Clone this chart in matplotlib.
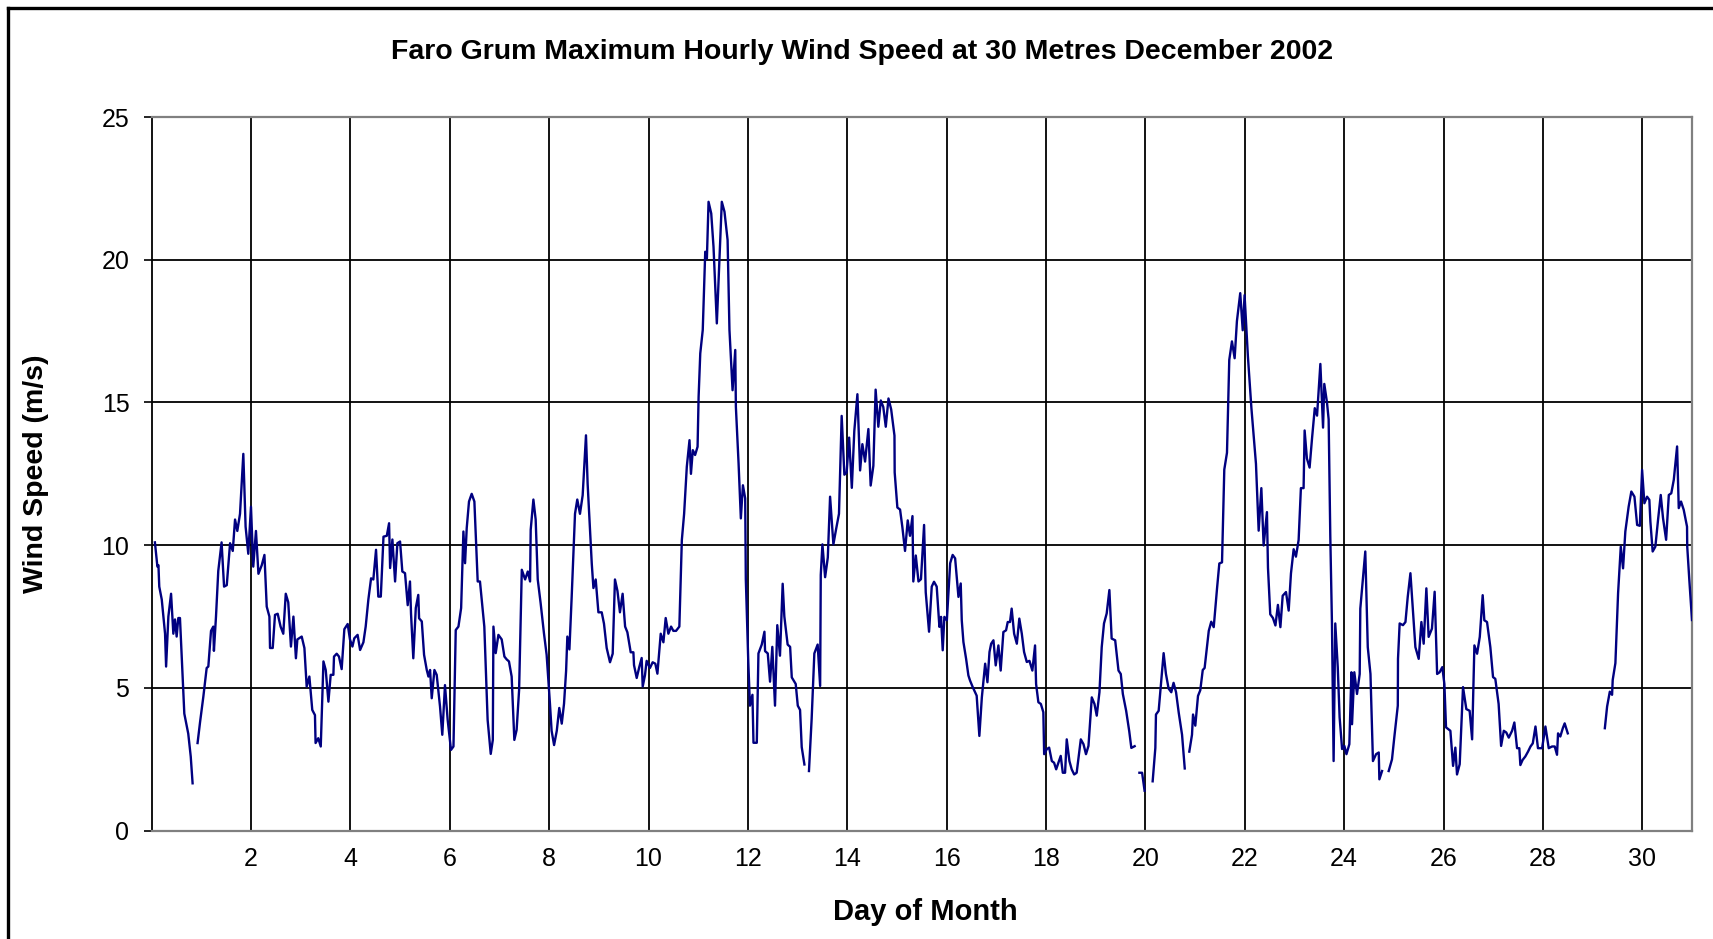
import numpy as np
import matplotlib
matplotlib.use("Agg")
import matplotlib.pyplot as plt
from matplotlib.lines import Line2D

plt.rcParams['font.family'] = ['Liberation Sans', 'DejaVu Sans']

nan = np.nan

# hour of month (from 00:00 on 1 Dec) and max hourly wind speed (m/s); nan = missing data
hours = [
    1.6, 2.8, 3.3, 3.7, 4.9, 6.5, 7.0, 8.1, 9.4, 10.5, 11.3, 12.1, 12.9, 13.7, 14.5, 15.8, 17.7, 18.9, 19.8,
    21.0,
    22.2, 23.4, 25.0, 26.6, 27.4, 28.7, 29.8, 30.1, 31.1, 32.2, 33.8, 35.0, 36.3, 37.9, 39.2, 40.3, 41.4,
    42.7, 44.3, 45.4, 46.7, 48.0, 49.1, 50.4, 51.6, 53.2, 54.5, 55.6, 56.9, 57.2, 58.5, 59.6, 60.9, 62.3,
    63.6, 64.8, 66.0, 67.3, 68.5, 69.7, 70.4, 72.5, 73.8, 74.9, 76.2, 77.6, 78.9, 79.2, 80.5, 81.7, 83.0,
    84.1, 85.4, 86.5, 87.8, 88.1, 89.4, 90.5, 91.8, 93.1,
    94.7, 95.8, 97.0, 97.9, 99.5, 100.7, 102.3, 103.4, 104.7, 106.0, 107.1, 108.4, 109.5, 110.7, 112.0,
    113.6, 114.7, 115.2, 116.3, 117.6, 118.7, 120.0, 121.1, 122.4, 123.7, 124.8, 125.3, 126.4, 127.6,
    128.8, 129.2, 130.5, 131.6, 132.9, 133.7, 134.5, 135.3, 136.6, 137.7, 139.3, 140.4, 141.7, 143.0,
    144.6, 145.8, 146.9, 148.2, 149.5, 150.6, 151.4, 152.2, 153.3, 154.6, 155.9, 157.5, 158.6, 160.7,
    162.3, 163.8, 164.8, 165.1, 166.2, 167.5, 169.1, 170.4, 171.5, 172.6, 173.9, 175.2, 176.3, 177.5,
    178.8, 180.4, 181.7, 182.8, 183.1, 184.4, 185.5, 186.5, 187.9, 189.5, 190.8,
    192.4, 193.2, 194.4, 195.7, 196.9, 198.1, 199.2, 200.2, 200.8, 201.8, 202.9, 204.5, 205.6, 206.9,
    208.2, 209.8, 210.6, 211.8, 212.6, 213.4, 214.5, 215.8, 217.4, 218.5, 219.8, 221.4, 222.7, 223.8,
    225.0, 226.2, 227.5, 228.7, 229.8, 231.4, 232.7, 233.0, 234.3, 235.6, 236.7, 237.2, 238.3, 239.1,
    240.7, 242.0, 243.3, 244.3, 245.9, 247.2, 248.3, 249.6, 250.9, 252.0, 253.3, 254.9,
    256.1, 257.2, 258.5, 259.8, 260.5, 261.4, 262.5, 263.7, 264.2, 265.0, 266.2, 267.4, 268.2, 269.0,
    270.3, 271.4, 273.0, 274.3, 275.4, 276.7, 278.2, 279.1, 280.6, 281.9, 282.2, 283.5, 284.6, 285.6, 286.7,
    287.0, 288.2, 289.0, 290.2, 290.7, 292.3, 293.1, 294.7, 296.0, 296.3, 297.6, 298.7, 299.8, 301.1,
    302.2, 303.5, 304.8, 305.6, 307.2, 308.4, 309.2, 311.1, 312.1, 313.2, 314.0, 315.3,
    316.4,
    317.5, 318.8, 320.1, 321.7, 322.9, 323.2, 324.0, 325.3, 326.6, 327.7, 329.3, 330.6, 332.0, 333.3,
    334.6, 335.7, 336.9, 338.2, 339.4, 340.9, 342.2, 343.3, 344.6, 346.2, 347.3, 348.6, 349.7, 351.0,
    352.2, 353.4, 354.6, 355.9, 357.2, 358.8, 358.9, 360.2, 361.5, 362.6, 363.9, 365.2, 366.3, 367.5,
    367.9, 369.1, 370.4, 371.6, 373.1, 373.9, 375.5,
    376.8, 377.9, 379.2, 380.5, 381.3, 382.1, 382.9, 384.1, 385.7, 386.9, 388.1, 389.7, 390.8, 391.3,
    392.1, 393.4, 394.5, 395.3, 396.6, 398.5, 399.8, 401.0, 402.6, 403.7, 404.7, 405.5, 406.6, 407.7,
    409.0, 410.1, 411.4, 412.7, 413.5, 414.6, 415.4, 416.6, 417.9, 419.1, 420.3, 421.4, 422.7, 424.0,
    425.4, 426.7, 427.2, 428.3, 429.5, 430.7, 431.1, 432.4, 433.5, 434.8, 435.9, 436.9, 438.0, 439.1,
    440.1, 441.2, 442.0, 443.3, 444.4, 445.6, 446.8, 448.1, 448.8, 450.1, 451.3, 452.5, 454.1, 455.4,
    456.5, 457.8, 458.9, 460.0, 461.3, 462.6, 463.7, 465.4, 467.0, 468.1, 469.1, 470.7,
    472.2, 473.2, 474.8,
    476.0,
    477.1, 478.4, 479.6,
    481.5,
    483.5, 484.8, 485.1, 486.4, 487.7, 488.8, 489.9, 491.2, 492.5, 493.6, 494.8, 496.1, 497.7, 499.0,
    500.1,
    501.2, 502.5, 503.0, 504.1, 505.4, 506.5, 507.7, 508.6, 509.3, 510.6, 511.8, 513.0, 514.6, 515.7,
    517.0, 518.1, 519.4, 520.5, 521.8, 523.1, 524.2, 525.8, 527.0, 527.9, 529.5, 531.2, 533.4, 534.7,
    536.0, 537.1, 538.7, 539.2, 540.3, 541.6, 542.8, 544.0, 545.2, 546.3, 547.9, 549.2, 550.3, 551.6,
    552.7, 554.0, 555.1, 556.4, 556.9, 558.0, 559.3, 560.5, 561.8, 562.9,
    564.5, 565.8, 566.4, 567.7, 568.5, 569.3, 570.1, 570.9, 571.7, 572.9, 573.8, 575.0, 576.1, 577.1,
    578.5, 579.5, 579.8, 580.9, 582.2, 583.5, 583.8, 585.1, 586.2, 587.4, 588.7, 589.9, 591.4, 592.7,
    593.0, 594.3,
    596.0,
    597.5, 599.1, 600.2, 601.9, 602.0, 602.8, 604.4, 605.6, 606.7, 608.0, 609.3, 610.4, 612.0, 613.3,
    614.4, 615.7, 616.8, 618.4, 619.7, 620.9, 622.1, 623.4, 624.4, 625.2, 627.3, 628.6, 629.7, 630.5,
    631.8, 633.4, 635.0, 636.6, 637.8, 638.9, 640.2, 641.5, 642.9, 643.7, 645.0, 646.6, 647.9, 649.0,
    650.6, 651.8, 653.1, 654.3, 655.5, 657.1, 658.2,
    659.5, 660.6, 661.1, 662.2, 663.5, 664.8, 666.0, 667.1, 668.4, 669.6, 670.8, 671.6, 673.2, 674.8,
    676.4, 677.7, 678.8, 679.3, 680.4, 681.6, 682.5, 684.0,
    693.0,
    701.9, 703.0, 704.3, 705.4, 705.7, 707.0, 708.3, 709.6, 710.7, 711.8, 713.4, 714.7, 716.2, 717.5,
    718.8, 719.9, 721.0, 722.3, 723.4, 723.9, 725.0, 726.3, 727.6, 728.9, 730.0, 731.5, 732.8, 734.0,
    735.2, 736.8, 737.6, 738.7, 740.0, 741.6, 741.7, 742.7, 744.0,
]

speed = [
    10.1, 9.25, 9.3, 8.55, 8.1, 6.9, 5.75, 7.5, 8.3, 6.9, 7.4, 6.8, 7.45, 7.45, 6.2, 4.1, 3.4, 2.6, 1.66,
    nan,
    3.07, 3.8, 4.7, 5.7, 5.75, 7.0, 7.15, 6.3, 7.5, 9.1, 10.1, 8.55, 8.6, 10.07, 9.8, 10.9, 10.5,
    11.1, 13.2, 10.65, 9.7, 11.35, 9.25, 10.5, 9.0, 9.3, 9.66, 7.85, 7.5, 6.4, 6.4, 7.56, 7.6, 7.15,
    6.9, 8.3, 8.0, 6.45, 7.5, 6.04, 6.7, 6.8, 6.4, 5.05, 5.4, 4.23, 4.05, 3.07, 3.24, 2.95, 5.93,
    5.63, 4.52, 5.46, 5.46, 6.1, 6.2, 6.1, 5.66, 7.06,
    7.24, 6.7, 6.45, 6.74, 6.86, 6.33, 6.6, 7.15, 8.1, 8.84, 8.8, 9.84, 8.2, 8.2, 10.3,
    10.33, 10.77, 9.2, 10.2, 8.73, 10.07, 10.13, 9.08, 9.02, 7.9, 8.73, 7.6, 6.04, 7.8,
    8.26, 7.44, 7.33, 6.16, 5.63, 5.4, 5.63, 4.64, 5.63, 5.46, 4.35, 3.36, 5.1, 3.88,
    2.83, 2.95, 7.03, 7.15, 7.8, 10.48, 9.37, 10.6, 11.53, 11.8, 11.53, 8.73, 8.73, 7.15,
    3.88, 2.69, 3.18, 7.15, 6.22, 6.86, 6.7, 6.1, 6.0, 5.93, 5.4, 3.18, 3.53, 4.93,
    9.14, 8.8, 9.08, 8.73, 10.54, 11.6, 10.9, 8.8, 7.97, 6.92, 6.16,
    4.45, 3.5, 3.0, 3.5, 4.3, 3.75, 4.45, 5.6, 6.8, 6.35, 8.2, 11.1, 11.6, 11.1,
    11.75, 13.85, 12.15, 10.5, 9.35, 8.5, 8.8, 7.65, 7.65, 7.25, 6.4, 5.9, 6.2, 8.8,
    8.4, 7.65, 8.3, 7.15, 6.95, 6.25, 6.25, 5.8, 5.35, 5.75, 6.05, 5.05, 5.45, 5.95,
    5.7, 5.9, 5.85, 5.5, 6.9, 6.6, 7.45, 6.9, 7.15, 7.0, 7.0, 7.15,
    10.18, 11.1, 12.75, 13.68, 12.5, 13.33, 13.16, 13.45, 15.2, 16.72, 17.54, 20.28, 20.05, 22.03,
    21.62, 20.45, 17.77, 20.1, 22.03, 21.68, 20.69, 17.54, 15.43, 16.84, 14.85, 12.87, 10.94, 12.1, 11.64,
    8.81, 5.9, 4.38, 4.76, 3.08, 3.08, 6.21, 6.52, 6.97, 6.29, 6.21, 5.22, 6.44, 4.38,
    7.2, 6.13, 8.65, 7.51, 6.52, 6.44, 5.37, 5.14, 4.38, 4.23, 2.93, 2.32,
    nan,
    2.09, 3.92, 6.21, 6.52, 5.07, 8.96, 10.03, 8.88, 9.57, 11.7, 10.03, 10.56, 11.1, 14.53,
    12.47, 12.55, 13.77, 12.01, 14.0, 15.29, 12.62, 13.54, 12.93, 14.07, 12.09, 12.78, 15.45, 14.15,
    15.07, 14.84, 14.15, 15.14, 14.76, 13.84, 12.55, 11.32, 11.25, 10.64, 9.8, 10.87, 10.33, 11.02,
    8.73, 9.64, 8.73, 8.81, 10.71, 8.35, 6.97,
    8.55, 8.72, 8.55, 7.14, 7.49, 6.32, 7.49, 7.37, 9.37, 9.66, 9.54, 8.19, 8.66, 7.37,
    6.61, 6.02, 5.44, 5.26, 5.03, 4.73, 3.32, 4.67, 5.85, 5.2, 6.26, 6.55, 6.67, 5.79,
    6.49, 5.61, 6.96, 7.02, 7.31, 7.31, 7.78, 6.9, 6.55, 7.43, 6.9, 6.26, 5.91, 5.95,
    5.61, 6.49, 5.14, 4.5, 4.44, 4.15, 2.68, 2.86, 2.91, 2.44, 2.38, 2.15, 2.38, 2.62,
    2.03, 2.03, 3.2, 2.44, 2.15, 1.97, 2.03, 2.79, 3.2, 3.03, 2.68, 2.97, 4.67, 4.44,
    4.03, 4.85, 6.43, 7.26, 7.61, 8.43, 6.73, 6.67, 5.61, 5.49, 4.79, 4.2,
    3.48, 2.9, 2.96,
    nan,
    2.03, 2.03, 1.4,
    nan,
    1.73, 2.9, 4.07, 4.2, 5.31, 6.22, 5.5, 4.98, 4.85, 5.18, 4.85, 4.13, 3.36, 2.18,
    nan,
    2.77, 3.36, 4.07, 3.68, 4.72, 4.92, 5.63, 5.7, 6.15, 7.0, 7.32, 7.13, 8.49, 9.36,
    9.4, 12.65, 13.24, 16.49, 17.14, 16.55, 17.85, 18.83, 17.53, 18.76, 16.62, 14.8, 12.85, 10.51,
    12.0, 9.99, 11.16, 9.21, 7.58, 7.45, 7.19, 7.91, 7.13, 8.23, 8.36, 7.71, 9.01, 9.86,
    9.6, 10.18, 12.0, 12.0, 14.02, 13.04, 12.72, 13.76, 14.8, 14.54,
    16.35, 14.12, 15.65, 15.0, 14.41, 10.31, 7.26, 2.44, 7.26, 5.73, 3.97, 2.86, 2.97, 2.68,
    3.03, 5.55, 3.73, 5.55, 4.79, 5.49, 7.78, 8.84, 9.78, 6.43, 5.49, 2.44, 2.68, 2.74,
    1.8, 2.09,
    nan,
    2.09, 2.5, 3.26, 4.38, 6.02, 7.26, 7.2, 7.31, 8.19, 9.02, 7.61, 6.43, 6.02, 7.31,
    6.55, 8.49, 6.79, 7.08, 8.37, 5.49, 5.55, 5.73, 5.14, 3.62, 3.5, 2.27, 2.91, 1.97,
    2.33, 5.03, 4.26, 4.2, 3.2, 6.49, 6.2, 6.79, 8.25, 7.37, 7.31, 6.43, 5.38, 5.32,
    4.44, 2.97, 3.5, 3.44, 3.26, 3.5, 3.79,
    2.89, 2.89, 2.3, 2.48, 2.6, 2.77, 2.95, 3.06, 3.65, 2.89, 2.89, 2.89, 3.65, 2.89,
    2.95, 2.95, 2.66, 3.41, 3.3, 3.59, 3.76, 3.41,
    nan,
    3.59, 4.35, 4.87, 4.76, 5.28, 5.87, 8.32, 9.95, 9.19, 10.48, 11.35, 11.88, 11.7, 10.71,
    10.68, 12.64, 11.47, 11.7, 11.59, 10.83, 9.78, 9.95, 10.89, 11.76, 10.95, 10.19, 11.76, 11.82,
    12.29, 13.46, 11.3, 11.53, 11.24, 10.65, 9.95, 8.79, 7.38,
]

y_ticks = [0, 5, 10, 15, 20, 25]
x_ticks = list(range(2, 31, 2))

days = np.array(hours) / 24.0

W, H = 1713, 939
fig = plt.figure(figsize=(W / 100, H / 100), dpi=100)
ax = fig.add_axes([151.6 / W, 1 - 830.7 / H, (1692 - 151.6) / W, (830.7 - 117) / H])

ax.plot(days, speed, color='#000080', lw=1.7, zorder=3)

ax.set_xlim(0, 31)
ax.set_ylim(0, 25)
ax.set_yticks(y_ticks)
ax.set_xticks(x_ticks)
ax.grid(True, color='black', lw=1.3, zorder=1)
ax.set_axisbelow(True)

for s in ['top', 'right', 'bottom']:
    ax.spines[s].set_color('#808080')
    ax.spines[s].set_linewidth(1.6)
ax.spines['left'].set_color('black')
ax.spines['left'].set_linewidth(1.3)

ax.tick_params(axis='y', direction='out', length=6, width=1.2, pad=10, labelsize=18)
ax.tick_params(axis='x', length=0, pad=12, labelsize=18)

fig.text(862 / W, 1 - 52 / H, 'Faro Grum Maximum Hourly Wind Speed at 30 Metres December 2002',
         ha='center', va='center', fontsize=20.5, fontweight='bold')
fig.text(36 / W, 1 - 474 / H, 'Wind Speed (m/s)', rotation=90,
         ha='center', va='center', fontsize=20.5, fontweight='bold')
fig.text(925 / W, 1 - 912 / H, 'Day of Month',
         ha='center', va='center', fontsize=21, fontweight='bold')

# outer chart frame (right and bottom edges fall outside the image)
fig.add_artist(Line2D([7.5 / W, 7.5 / W], [0, 1 - 7.5 / H], color='black', lw=2.4))
fig.add_artist(Line2D([7.5 / W, 1], [1 - 7.5 / H, 1 - 7.5 / H], color='black', lw=2.4))

fig.savefig('out.png', dpi=100)
